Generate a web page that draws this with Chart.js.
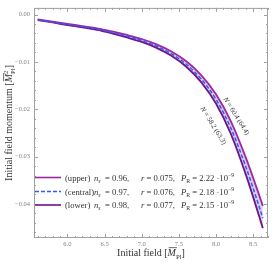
<!DOCTYPE html>
<html>
<head>
<meta charset="utf-8">
<script src="https://cdn.jsdelivr.net/npm/chart.js@4/dist/chart.umd.min.js"></script>
<style>
  html, body { margin: 0; padding: 0; background: #fff; }
</style>
</head>
<body>
<canvas id="myChart" width="272" height="263"></canvas>
<script>
// initial field values (M_Pl) and field momenta for the three runs
const fieldVals   = [5.6, 5.8, 6.0, 6.2, 6.4, 6.6, 6.8, 7.0, 7.2, 7.4, 7.6, 7.8, 8.0, 8.2, 8.4, 8.6, 8.63];
const upperMom    = [-0.00103, -0.0015, -0.00197, -0.00244, -0.00291, -0.00357, -0.00432, -0.00517, -0.0063, -0.0078, -0.00987, -0.01278, -0.01683, -0.02256, -0.03017, -0.03901, -0.04042];
const centralMom  = [-0.0011, -0.0016, -0.0021, -0.0026, -0.0031, -0.0038, -0.0046, -0.0055, -0.0067, -0.0083, -0.0105, -0.0136, -0.0179, -0.0240, -0.0321, -0.0415, -0.0430];
const lowerMom    = [-0.00116, -0.00168, -0.00221, -0.00273, -0.00326, -0.00399, -0.00483, -0.00578, -0.00704, -0.00872, -0.01103, -0.01428, -0.0188, -0.0252, -0.03371, -0.04358, -0.04515];

const xTickVals = [6.0, 6.5, 7.0, 7.5, 8.0, 8.5];
const yTickVals = [0, -0.01, -0.02, -0.03, -0.04];

const runNames = ['(upper)', '(central)', '(lower)'];
const nsVals = ['0.96', '0.97', '0.98'];
const rVals = ['0.075', '0.076', '0.077'];
const prVals = ['2.22', '2.18', '2.15'];
const efoldLabels = ['N = 60.4 (64.4)', 'N = 58.2 (63.3)'];

const upperColor = '#a0279f';
const centralColor = '#3a56f2';
const lowerColor = '#6c1587';
const serif = '"Liberation Serif", "DejaVu Serif", serif';

const ctx = document.getElementById('myChart').getContext('2d');

function pts(ys) {
  return fieldVals.map((x, i) => ({ x: x, y: ys[i] }));
}

// draws text made of parts (italic, sub, sup, overbar); returns width
function drawRich(c, x, y, parts, size) {
  let cx = x, lastX = x;
  parts.forEach(p => {
    const small = p.sub || p.sup;
    const fs = small ? size * 0.68 : size;
    c.font = (p.it ? 'italic ' : '') + fs + 'px ' + serif;
    const w = c.measureText(p.t).width;
    const dy = p.sub ? size * 0.28 : (p.sup ? -size * 0.42 : 0);
    const px = p.stack ? lastX : cx;
    c.fillText(p.t, px, y + dy);
    if (p.bar) c.fillRect(px + 1, y - size * 0.86, w, 0.7);
    if (p.stack) {
      cx = Math.max(cx, px + w);
    } else {
      lastX = cx;
      cx += w;
    }
  });
  return cx - x;
}

function richWidth(c, parts, size) {
  c.save();
  c.globalAlpha = 0;
  const w = drawRich(c, 0, 0, parts, size);
  c.restore();
  return w;
}

const decorPlugin = {
  id: 'decor',
  afterDatasetsDraw(chart) {
    const c = chart.ctx, a = chart.chartArea;
    const xs = chart.scales.x, ys = chart.scales.y;
    c.save();

    // frame with inward ticks
    c.strokeStyle = '#a0a0a0';
    c.lineWidth = 1;
    c.strokeRect(a.left + 0.5, a.top + 0.5, a.right - a.left - 1, a.bottom - a.top - 1);
    c.beginPath();
    for (let k = 56; k <= 87; k++) {
      const px = Math.round(xs.getPixelForValue(k / 10)) + 0.5;
      const l = k % 5 === 0 ? 4 : 2;
      c.moveTo(px, a.bottom); c.lineTo(px, a.bottom - l);
      c.moveTo(px, a.top); c.lineTo(px, a.top + l);
    }
    for (let k = -23; k <= 0; k++) {
      const py = Math.round(ys.getPixelForValue(k * 0.002)) + 0.5;
      const l = k % 5 === 0 ? 4 : 2;
      c.moveTo(a.left, py); c.lineTo(a.left + l, py);
      c.moveTo(a.right, py); c.lineTo(a.right - l, py);
    }
    c.stroke();

    // legend
    const rowY = [177.5, 191.5, 205];
    const colors = [upperColor, centralColor, lowerColor];
    c.textBaseline = 'alphabetic';
    rowY.forEach((yy, i) => {
      c.beginPath();
      c.strokeStyle = colors[i];
      c.lineWidth = 1.6;
      c.setLineDash(i === 1 ? [4, 2] : []);
      c.moveTo(35, yy); c.lineTo(61, yy);
      c.stroke();
      c.setLineDash([]);
      c.fillStyle = '#333';
      const base = yy + 3;
      const fs = 8.6;
      drawRich(c, 65, base, [{ t: runNames[i] }], fs);
      drawRich(c, 94, base, [{ t: 'n', it: true }, { t: 's', it: true, sub: true }], fs);
      drawRich(c, 105, base, [{ t: '=' }], fs);
      drawRich(c, 112, base, [{ t: nsVals[i] + ',' }], fs);
      drawRich(c, 141, base, [{ t: 'r', it: true }, { t: ' = ' + rVals[i] + ',' }], fs);
      drawRich(c, 181, base, [{ t: 'P', it: true }, { t: 'R', sub: true }, { t: ' = ' + prVals[i] + ' \u00b710' }, { t: '\u22129', sup: true }], fs);
    });

    // e-fold labels along the band
    const labelAnchors = [[8.28, -0.0214], [7.97, -0.0234]];
    labelAnchors.forEach((p, i) => {
      const px = xs.getPixelForValue(p[0]);
      const py = ys.getPixelForValue(p[1]);
      const parts = [{ t: 'N', it: true }, { t: efoldLabels[i].slice(1) }];
      const fs = 7;
      const w = richWidth(c, parts, fs);
      c.save();
      c.translate(px, py);
      c.rotate(58 * Math.PI / 180);
      c.fillStyle = '#333';
      drawRich(c, -w / 2, 2.5, parts, fs);
      c.restore();
    });

    // axis titles
    c.fillStyle = '#333';
    const xParts = [{ t: 'Initial field [' }, { t: 'M', it: true, bar: true }, { t: 'Pl', sub: true }, { t: ']' }];
    const xw = richWidth(c, xParts, 10);
    drawRich(c, (a.left + a.right) / 2 - xw / 2, 256, xParts, 10);

    const yParts = [{ t: 'Initial field momentum [' }, { t: 'M', it: true, bar: true }, { t: 'Pl', sub: true }, { t: '2', sup: true, stack: true }, { t: ']' }];
    const yw = richWidth(c, yParts, 10);
    c.save();
    c.translate(12, (a.top + a.bottom) / 2);
    c.rotate(-Math.PI / 2);
    drawRich(c, -yw / 2, 0, yParts, 10);
    c.restore();

    c.restore();
  }
};

new Chart(ctx, {
  type: 'line',
  data: {
    datasets: [
      { label: 'upper', data: pts(upperMom), borderColor: upperColor, borderWidth: 1.8, pointRadius: 0, fill: false, order: 1 },
      { label: 'central', data: pts(centralMom), borderColor: centralColor, borderWidth: 1.5, borderDash: [4, 2], pointRadius: 0, fill: false, order: 0 },
      { label: 'lower', data: pts(lowerMom), borderColor: lowerColor, borderWidth: 1.8, pointRadius: 0, fill: 0, backgroundColor: 'rgba(208, 200, 238, 0.85)', order: 2 }
    ]
  },
  options: {
    responsive: false,
    animation: false,
    devicePixelRatio: 1,
    cubicInterpolationMode: 'monotone',
    layout: { padding: { top: 2, right: 4, left: 0, bottom: 0 } },
    plugins: { legend: { display: false }, tooltip: { enabled: false } },
    scales: {
      x: {
        type: 'linear', min: 5.55, max: 8.70,
        afterBuildTicks: s => { s.ticks = xTickVals.map(v => ({ value: v })); },
        afterFit: s => { s.height = 25; },
        grid: { display: false, drawTicks: false },
        border: { display: false },
        ticks: { color: '#808080', font: { family: serif, size: 6.5 }, padding: 2, maxRotation: 0, callback: v => v.toFixed(1) }
      },
      y: {
        type: 'linear', min: -0.0472, max: 0.0014,
        afterBuildTicks: s => { s.ticks = yTickVals.map(v => ({ value: v })); },
        afterFit: s => { s.width = 34; },
        grid: { display: false, drawTicks: false },
        border: { display: false },
        ticks: { color: '#808080', font: { family: serif, size: 6.5 }, padding: 4, callback: v => (v === 0 ? '0.00' : '\u2212' + Math.abs(v).toFixed(2)) }
      }
    }
  },
  plugins: [decorPlugin]
});
</script>
</body>
</html>
